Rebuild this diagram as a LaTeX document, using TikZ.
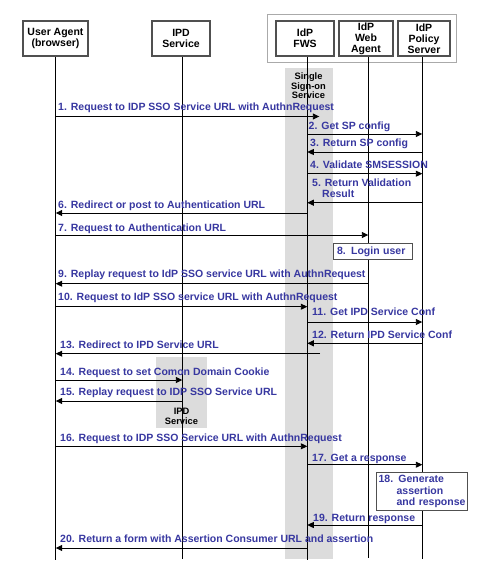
\documentclass[tikz,border=0pt]{standalone}
\usepackage{fontspec}
\setmainfont{Liberation Sans}
\usetikzlibrary{arrows.meta}
\definecolor{lblc}{RGB}{55,55,160}
\definecolor{ssogray}{RGB}{220,220,220}
\definecolor{boxedge}{RGB}{80,80,80}
\definecolor{outeredge}{RGB}{170,170,170}
\begin{document}
\begin{tikzpicture}[x=1bp,y=-1bp,
  hdr/.style={draw=boxedge, line width=1.2bp, fill=white, inner sep=0pt, align=center,
    minimum height=35bp, font=\fontsize{10.5bp}{11bp}\selectfont\bfseries},
  act/.style={draw=boxedge, line width=1.2bp, fill=white, inner ysep=0pt, align=left,
    text=lblc, font=\fontsize{10.5bp}{11.5bp}\selectfont\bfseries, anchor=north west},
  lbl/.style={text=lblc, inner sep=0pt, anchor=base west, font=\fontsize{10.5bp}{11bp}\selectfont\bfseries},
  grey/.style={fill=ssogray, draw=none},
  small/.style={inner sep=0pt, align=center, font=\fontsize{9.3bp}{9.5bp}\selectfont\bfseries},
  life/.style={draw=black, line width=0.9bp},
  msg/.style={draw=black, line width=0.9bp, -{Triangle[length=6.5bp,width=6bp]}}]
\useasboundingbox (0,0) rectangle (485,576);
% activation / service shading
\path[grey] (285,68) rectangle (333,559);
\path[grey] (156,357) rectangle (207,428);
\node[small] (sso) at (308.5,86) {Single\\Sign-on\\Service};
\node[small] (ipdsvc) at (181.5,416.5) {IPD\\Service};
% outer IdP box
\node[draw=outeredge, line width=1bp, minimum width=189bp, minimum height=48bp, inner sep=0pt] (idp) at (361.5,39) {};
% lifelines
\coordinate (uaT) at (55.7,56);  \coordinate (uaB) at (55.7,560);
\coordinate (ipT) at (182.3,56); \coordinate (ipB) at (182.3,559);
\coordinate (fwT) at (307.3,56); \coordinate (fwB) at (307.3,560);
\coordinate (waT) at (368.3,56); \coordinate (waB) at (368.3,558);
\coordinate (psT) at (422.3,56); \coordinate (psB) at (422.3,559);
\draw[life] (uaT) -- (uaB);
\draw[life] (ipT) -- (ipB);
\draw[life] (fwT) -- (fwB);
\draw[life] (waT) -- (waB);
\draw[life] (psT) -- (psB);
% headers
\node[hdr, minimum width=65bp] (ua) at (55.5,38.5) {User Agent\\(browser)};
\node[hdr, minimum width=58bp] (ipd) at (181,38.5) {IPD\\Service};
\node[hdr, minimum width=58bp] (fws) at (305,38.5) {IdP\\FWS};
\node[hdr, minimum width=54bp] (wa) at (366,38.5) {IdP\\Web\\Agent};
\node[hdr, minimum width=52bp] (ps) at (424,38.5) {IdP\\Policy\\Server};
% messages
\draw[msg] (uaT |- 0,116.5) -- ([xshift=12bp]fwT |- 0,116.5);
\node[lbl] (l1) at (58,110.5) {1. Request to IDP SSO Service URL with AuthnRequest};
\draw[msg] (fwT |- 0,134) -- (psT |- 0,134);
\node[lbl] (l2) at (308.5,130) {2. Get SP config};
\draw[msg] (psT |- 0,152) -- (fwT |- 0,152);
\node[lbl] (l3) at (310,146.5) {3. Return SP config};
\draw[msg] (fwT |- 0,173.7) -- (psT |- 0,173.7);
\node[lbl] (l4) at (310,168.5) {4. Validate SMSESSION};
\draw[msg] (psT |- 0,202.7) -- (fwT |- 0,202.7);
\node[lbl] (l5a) at (312,186.5) {5. Return Validation};
\node[lbl] (l5b) at (322,197.5) {Result};
\draw[msg] (fwT |- 0,213) -- (uaT |- 0,213);
\node[lbl] (l6) at (58,208.5) {6. Redirect or post to Authentication URL};
\draw[msg] (uaT |- 0,235) -- (waT |- 0,235);
\node[lbl] (l7) at (58,231.5) {7. Request to Authentication URL};
\node[act, text width=72bp, inner xsep=3.5bp, minimum height=16bp] (b8) at (333,243) {8. Login user};
\draw[msg] (waT |- 0,283.7) -- (uaT |- 0,283.7);
\node[lbl] (l9) at (58,277.5) {9. Replay request to IdP SSO service URL with AuthnRequest};
\draw[msg] (uaT |- 0,306.7) -- (fwT |- 0,306.7);
\node[lbl] (l10) at (58,300.5) {10. Request to IdP SSO service URL with AuthnRequest};
\draw[msg] (fwT |- 0,322) -- (psT |- 0,322);
\node[lbl] (l11) at (312,315) {11. Get IPD Service Conf};
\draw[msg] (psT |- 0,343.3) -- (fwT |- 0,343.3);
\node[lbl] (l12) at (312,338) {12. Return IPD Service Conf};
\draw[msg] ([xshift=12.7bp]fwT |- 0,353.7) -- (uaT |- 0,353.7);
\node[lbl] (l13) at (60,348.5) {13. Redirect to IPD Service URL};
\draw[msg] (uaT |- 0,380) -- (ipT |- 0,380);
\node[lbl] (l14) at (60,375) {14. Request to set Comon Domain Cookie};
\draw[msg] (ipT |- 0,401) -- (uaT |- 0,401);
\node[lbl] (l15) at (60,395.5) {15. Replay request to IDP SSO Service URL};
\draw[msg] (uaT |- 0,446.3) -- (fwT |- 0,446.3);
\node[lbl] (l16) at (60,441) {16. Request to IDP SSO Service URL with AuthnRequest};
\draw[msg] (fwT |- 0,464.7) -- (psT |- 0,464.7);
\node[lbl] (l17) at (312,461.5) {17. Get a response};
\node[act, text width=87bp, inner xsep=2bp, minimum height=38bp] (b18) at (376,472) {18. Generate\\\hspace*{18bp}assertion\\\hspace*{18bp}and response};
\draw[msg] (psT |- 0,525) -- (fwT |- 0,525);
\node[lbl] (l19) at (313,521.5) {19. Return response};
\draw[msg] (fwT |- 0,548) -- (uaT |- 0,548);
\node[lbl] (l20) at (60,542.5) {20. Return a form with Assertion Consumer URL and assertion};
\end{tikzpicture}
\end{document}
